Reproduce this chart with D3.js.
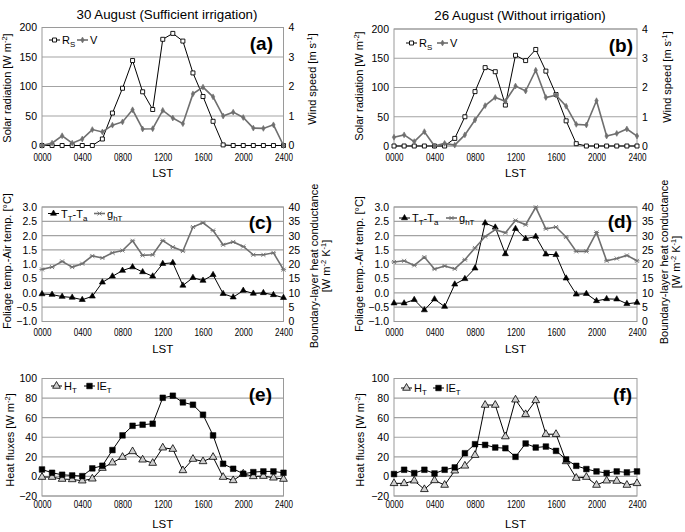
<!DOCTYPE html>
<html><head><meta charset="utf-8">
<script src="https://cdn.jsdelivr.net/npm/d3@7"></script>
<style>
html,body{margin:0;padding:0;background:#fff;}
svg{display:block;font-family:Arial,"Liberation Sans",sans-serif;}
</style></head>
<body>
<svg id="chart" width="685" height="532"></svg>
<script>
// ---------- data ----------
const hours = [0,1,2,3,4,5,6,7,8,9,10,11,12,13,14,15,16,17,18,19,20,21,22,23,24];
const xTickValues = [0,4,8,12,16,20,24];
const xTickLabels = ["0000","0400","0800","1200","1600","2000","2400"];

const rsA = [0,0,0,0,0,0,11,55,97,144,91,61,180,190,177,123,83,41,1,0,0,0,0,0,0];
const vA  = [0,0.08,0.33,0.08,0.22,0.54,0.46,0.69,0.8,1.21,0.56,0.57,1.19,0.93,0.74,1.75,1.98,1.65,1.0,1.13,0.95,0.59,0.58,0.7,0];
const rsB = [0,0,0,0,0,0,13,50,93,134,127,70,155,146,165,128,88,43,4,0,0,0,0,0,0];
const vB  = [0.3,0.38,0.15,0.49,0,0.09,0.03,0.38,0.89,1.38,1.66,1.53,2.05,1.88,2.59,1.66,1.74,1.36,0.74,0.72,1.55,0.34,0.43,0.58,0.34];

const dtC = [-0.04,-0.06,-0.13,-0.16,-0.24,-0.12,0.37,0.58,0.78,0.9,0.73,0.58,1.02,1.05,0.26,0.53,0.43,0.63,-0.03,-0.15,0.08,-0.02,0.0,-0.07,-0.17];
const ghC = [18.2,19.0,21.0,19.0,20.2,22.9,22.2,24.0,24.8,28.2,23.1,23.3,28.3,26.0,24.6,33.0,34.5,31.8,26.8,27.8,26.2,23.3,23.3,24.0,18.1];
const dtD = [-0.36,-0.36,-0.24,-0.6,-0.22,-0.48,0.3,0.49,0.86,2.44,2.29,1.36,2.24,1.89,1.97,1.35,1.33,0.51,-0.05,-0.03,-0.28,-0.21,-0.22,-0.38,-0.34];
const ghD = [20.8,21.2,19.6,22.5,18.3,19.4,18.4,21.6,25.7,29.7,32.1,31.0,35.3,33.8,39.9,32.4,33.0,29.5,24.5,24.5,31.1,21.2,22.0,23.1,21.2];

const htE = [-0.7,-0.7,-2.7,-3.1,-4.4,-2.4,8.5,14.0,19.7,25.5,17.0,13.6,29.3,27.9,6.1,17.7,15.3,19.7,-0.7,-4.1,2.7,0,0.3,-1.4,-2.7];
const leE = [7.1,3.7,1.7,1.0,0.3,8.2,10.9,26.9,41.9,51.7,52.8,53.8,80.3,82.4,75.6,73.2,63.0,41.9,12.9,7.8,2.7,4.4,5.1,5.1,3.7];
const htF = [-7.1,-7.1,-4.4,-13.2,-4.1,-8.8,5.8,10.8,21.7,72.9,72.9,40.7,78.3,63.4,77.6,43.1,43.1,15.3,-1.7,-0.7,-8.8,-4.4,-4.7,-8.8,-7.1];
const leF = [2.4,6.8,3.4,6.8,3.0,6.8,9.2,23.7,32.9,32.2,29.5,28.8,20.0,33.6,29.5,30.5,26.1,17.3,10.8,7.5,5.1,3.4,5.1,4.1,5.1];

const radTicks = [0,50,100,150,200];
const windTicks = [0,1,2,3,4];
const dtTicks = [-1,-0.5,0,0.5,1,1.5,2,2.5,3];
const ghTicks = [0,5,10,15,20,25,30,35,40];
const fluxTicks = [-20,0,20,40,60,80,100];

const titles = ["30 August (Sufficient irrigation)", "26 August (Without irrigation)"];

// ---------- styles ----------
const GRID = "#a3a3a3";
const GRAY = "#6f6f6f";
const markers = {
  openSquare: {path: d3.symbol(d3.symbolSquare, 16)(), fill: "#fff", stroke: "#000", sw: 0.9},
  diamond: {path: d3.symbol(d3.symbolDiamond, 10)(), fill: GRAY, stroke: GRAY, sw: 0.6},
  triFill: {path: d3.symbol(d3.symbolTriangle, 16)(), fill: "#000", stroke: "#000", sw: 0.6},
  aster: {path: "M-2.6,0H2.6M-2,-2L2,2M-2,2L2,-2", fill: "none", stroke: GRAY, sw: 0.9},
  triOpen: {path: d3.symbol(d3.symbolTriangle, 26)(), fill: "#cfcfcf", stroke: "#000", sw: 0.8},
  sqFill: {path: d3.symbol(d3.symbolSquare, 32)(), fill: "#000", stroke: "#000", sw: 0.5}
};

const svg = d3.select("#chart");

function rich(textSel, parts, fs) {
  let cur = 0;
  parts.forEach(p => {
    const [t, k] = Array.isArray(p) ? p : [p, null];
    let target = 0, size = fs;
    if (k === "sub") { target = fs * 0.28; size = fs * 0.72; }
    if (k === "sup") { target = -fs * 0.38; size = fs * 0.68; }
    const ts = textSel.append("tspan").text(t).attr("font-size", size);
    if (target !== cur) ts.attr("dy", target - cur);
    cur = target;
  });
}

function panel(c) {
  const g = svg.append("g");
  const x = d3.scaleLinear().domain([0, 24]).range([c.x0, c.x1]);
  const yL = d3.scaleLinear().domain(c.lDomain).range([c.yb, c.yt]);
  const yR = c.rDomain ? d3.scaleLinear().domain(c.rDomain).range([c.yb, c.yt]) : null;

  // gridlines
  g.append("g").selectAll("line").data(c.lTicks).join("line")
    .attr("x1", c.x0).attr("x2", c.x1)
    .attr("y1", d => yL(d)).attr("y2", d => yL(d))
    .attr("stroke", GRID).attr("stroke-width", 1.2);
  // frame
  g.append("rect").attr("x", c.x0).attr("y", c.yt).attr("width", c.x1 - c.x0).attr("height", c.yb - c.yt)
    .attr("fill", "none").attr("stroke", "#9a9a9a").attr("stroke-width", 1);

  // axes
  const ax = g.append("g").attr("transform", `translate(${c.x0},0)`)
    .call(d3.axisLeft(yL).tickValues(c.lTicks).tickSize(0).tickPadding(5).tickFormat(c.lFmt));
  ax.select(".domain").remove();
  ax.selectAll("text").attr("font-size", 10.5).attr("fill", "#000").attr("font-family", null);
  if (yR) {
    const ar = g.append("g").attr("transform", `translate(${c.x1},0)`)
      .call(d3.axisRight(yR).tickValues(c.rTicks).tickSize(0).tickPadding(5).tickFormat(d3.format("d")));
    ar.select(".domain").remove();
    ar.selectAll("text").attr("font-size", 10.5).attr("fill", "#000").attr("font-family", null);
  }
  const axb = g.append("g").attr("transform", `translate(0,${c.yb})`)
    .call(d3.axisBottom(x).tickValues(xTickValues).tickSize(0).tickPadding(c.xPad)
      .tickFormat((d, i) => xTickLabels[i]));
  axb.select(".domain").remove();
  axb.selectAll("text").attr("font-size", 10.5).attr("fill", "#000").attr("font-family", null)
    .attr("textLength", 18).attr("lengthAdjust", "spacingAndGlyphs");

  // LST
  g.append("text").attr("x", (c.x0 + c.x1) / 2).attr("y", c.yb + c.lstOff)
    .attr("text-anchor", "middle").attr("font-size", 11.5).text("LST");

  // series
  c.series.forEach(s => {
    const y = s.axis === "right" ? yR : yL;
    const line = d3.line().x((d, i) => x(hours[i])).y(d => y(d));
    g.append("path").datum(s.data).attr("d", line).attr("fill", "none")
      .attr("stroke", s.color).attr("stroke-width", s.width);
    const m = markers[s.marker];
    g.append("g").selectAll("path").data(s.data).join("path")
      .attr("d", m.path).attr("transform", (d, i) => `translate(${x(hours[i])},${y(d)})`)
      .attr("fill", m.fill).attr("stroke", m.stroke).attr("stroke-width", m.sw);
  });

  // legend
  c.legend.forEach(l => {
    const s = c.series[l.idx];
    const m = markers[s.marker];
    g.append("line").attr("x1", l.x - 1).attr("x2", l.x + 10).attr("y1", c.legY).attr("y2", c.legY)
      .attr("stroke", s.color).attr("stroke-width", s.width);
    g.append("path").attr("d", m.path).attr("transform", `translate(${l.x + 4.5},${c.legY})`)
      .attr("fill", m.fill).attr("stroke", m.stroke).attr("stroke-width", m.sw);
    const t = g.append("text").attr("x", l.x + 12).attr("y", c.legY + 4).attr("font-size", 11);
    rich(t, l.parts, 11);
  });

  // panel label
  g.append("text").attr("x", c.labX).attr("y", c.labY).attr("text-anchor", "end")
    .attr("font-size", 19).attr("font-weight", "bold").text(c.label);

  // axis titles
  const lt = g.append("text").attr("transform", `translate(${c.lTitleX},${c.lTitleY}) rotate(-90)`)
    .attr("text-anchor", "middle").attr("font-size", 11);
  rich(lt, c.lTitle, 11);
  (c.rTitles || []).forEach(rt => {
    const t = g.append("text").attr("transform", `translate(${rt.x},${c.rTitleY}) rotate(-90)`)
      .attr("text-anchor", "middle").attr("font-size", 11);
    rich(t, rt.parts, 11);
  });
}

const L = {x0: 42, x1: 283.5};
const R = {x0: 394, x1: 637};
const rows = [
  {yt: 27.5, yb: 145.5, xPad: 8, lstOff: 31},
  {yt: 207, yb: 321.5, xPad: 7, lstOff: 31.5},
  {yt: 378.5, yb: 496, xPad: 5, lstOff: 32}
];

const radTitle = ["Solar radiation [W m", ["-2", "sup"], "]"];
const windTitle = ["Wind speed [m s", ["-1", "sup"], "]"];
const dtTitle = ["Foliage temp.-Air temp. [°C]"];
const ghTitle1 = ["Boundary-layer heat conductance"];
const ghTitle2 = ["[W m", ["-2", "sup"], " K", ["-1", "sup"], "]"];
const fluxTitle = ["Heat fluxes [W m", ["-2", "sup"], "]"];

const legRS = ["R", ["S", "sub"]];
const legV = ["V"];
const legDT = ["T", ["T", "sub"], "-T", ["a", "sub"]];
const legGH = ["g", ["hT", "sub"]];
const legH = ["H", ["T", "sub"]];
const legLE = ["lE", ["T", "sub"]];

const fmt0 = d3.format("d"), fmt1 = d3.format(".1f");

// (a)
panel({...L, ...rows[0], lDomain: [0, 200], lTicks: radTicks, lFmt: fmt0, rDomain: [0, 4], rTicks: windTicks,
  series: [{data: rsA, axis: "left", color: "#000", width: 1, marker: "openSquare"},
           {data: vA, axis: "right", color: GRAY, width: 1.6, marker: "diamond"}],
  legY: 40, legend: [{idx: 0, x: 50, parts: legRS}, {idx: 1, x: 78, parts: legV}],
  label: "(a)", labX: 273, labY: 50,
  lTitle: radTitle, lTitleX: 11, lTitleY: 88, rTitles: [{x: 316, parts: windTitle}], rTitleY: 79});
// (b)
panel({...R, ...rows[0], yt: 29, yb: 146, lDomain: [0, 200], lTicks: radTicks, lFmt: fmt0, rDomain: [0, 4], rTicks: windTicks,
  series: [{data: rsB, axis: "left", color: "#000", width: 1, marker: "openSquare"},
           {data: vB, axis: "right", color: GRAY, width: 1.6, marker: "diamond"}],
  legY: 43, legend: [{idx: 0, x: 407, parts: legRS}, {idx: 1, x: 438, parts: legV}],
  label: "(b)", labX: 633, labY: 52,
  lTitle: radTitle, lTitleX: 363, lTitleY: 86, rTitles: [{x: 671, parts: windTitle}], rTitleY: 77});
// (c)
panel({...L, ...rows[1], lDomain: [-1, 3], lTicks: dtTicks, lFmt: fmt1, rDomain: [0, 40], rTicks: ghTicks,
  series: [{data: dtC, axis: "left", color: "#000", width: 1, marker: "triFill"},
           {data: ghC, axis: "right", color: GRAY, width: 1.6, marker: "aster"}],
  legY: 213.5, legend: [{idx: 0, x: 49, parts: legDT}, {idx: 1, x: 95, parts: legGH}],
  label: "(c)", labX: 272, labY: 229,
  lTitle: dtTitle, lTitleX: 11, lTitleY: 261,
  rTitles: [{x: 318, parts: ghTitle1}, {x: 330, parts: ghTitle2}], rTitleY: 266});
// (d)
panel({...R, ...rows[1], lDomain: [-1, 3], lTicks: dtTicks, lFmt: fmt1, rDomain: [0, 40], rTicks: ghTicks,
  series: [{data: dtD, axis: "left", color: "#000", width: 1, marker: "triFill"},
           {data: ghD, axis: "right", color: GRAY, width: 1.6, marker: "aster"}],
  legY: 218, legend: [{idx: 0, x: 400, parts: legDT}, {idx: 1, x: 447, parts: legGH}],
  label: "(d)", labX: 632, labY: 228,
  lTitle: dtTitle, lTitleX: 363, lTitleY: 264,
  rTitles: [{x: 668, parts: ghTitle1}, {x: 680, parts: ghTitle2}], rTitleY: 262});
// (e)
panel({...L, ...rows[2], lDomain: [-20, 100], lTicks: fluxTicks, lFmt: fmt0,
  series: [{data: htE, axis: "left", color: "#000", width: 1, marker: "triOpen"},
           {data: leE, axis: "left", color: "#000", width: 1, marker: "sqFill"}],
  legY: 386, legend: [{idx: 0, x: 52, parts: legH}, {idx: 1, x: 85, parts: legLE}],
  label: "(e)", labX: 272, labY: 401,
  lTitle: fluxTitle, lTitleX: 14, lTitleY: 440});
// (f)
panel({...R, ...rows[2], lDomain: [-20, 100], lTicks: fluxTicks, lFmt: fmt0,
  series: [{data: htF, axis: "left", color: "#000", width: 1, marker: "triOpen"},
           {data: leF, axis: "left", color: "#000", width: 1, marker: "sqFill"}],
  legY: 388, legend: [{idx: 0, x: 402, parts: legH}, {idx: 1, x: 434, parts: legLE}],
  label: "(f)", labX: 632, labY: 401,
  lTitle: fluxTitle, lTitleX: 364, lTitleY: 440});

// column titles
svg.append("text").attr("x", 167).attr("y", 19).attr("text-anchor", "middle").attr("font-size", 13.3).text(titles[0]);
svg.append("text").attr("x", 520).attr("y", 20).attr("text-anchor", "middle").attr("font-size", 13.3).text(titles[1]);
</script>
</body></html>
